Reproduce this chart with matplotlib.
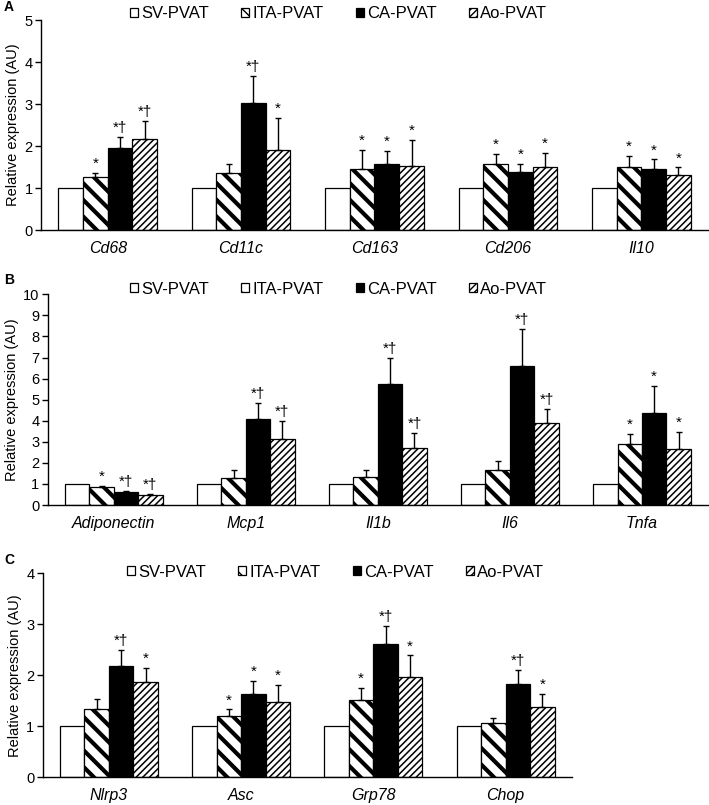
import matplotlib
matplotlib.use("Agg")
import matplotlib.pyplot as plt
from matplotlib.patches import Patch
import numpy as np

plt.rcParams['font.family'] = ['Liberation Sans', 'DejaVu Sans']

groups = ['SV-PVAT', 'ITA-PVAT', 'CA-PVAT', 'Ao-PVAT']

# Panel A
genes_a = ['Cd68', 'Cd11c', 'Cd163', 'Cd206', 'Il10']
sv_a = [1.0, 1.0, 1.0, 1.0, 1.0]
ita_a = [1.27, 1.36, 1.45, 1.56, 1.49]
ca_a = [1.95, 3.02, 1.56, 1.37, 1.45]
ao_a = [2.17, 1.90, 1.53, 1.49, 1.31]
ita_a_err = [1.36, 1.57, 1.90, 1.81, 1.76]
ca_a_err = [2.22, 3.67, 1.88, 1.57, 1.68]
ao_a_err = [2.60, 2.67, 2.14, 1.84, 1.49]
sig_a = [['', '*', '*†', '*†'], ['', '', '*†', '*'], ['', '*', '*', '*'],
         ['', '*', '*', '*'], ['', '*', '*', '*']]

# Panel B
genes_b = ['Adiponectin', 'Mcp1', 'Il1b', 'Il6', 'Tnfa']
sv_b = [1.0, 1.0, 1.0, 1.0, 1.0]
ita_b = [0.85, 1.30, 1.34, 1.66, 2.88]
ca_b = [0.63, 4.07, 5.73, 6.61, 4.35]
ao_b = [0.47, 3.15, 2.72, 3.91, 2.64]
ita_b_err = [0.90, 1.66, 1.66, 2.10, 3.36]
ca_b_err = [0.66, 4.83, 6.96, 8.34, 5.65]
ao_b_err = [0.53, 3.99, 3.43, 4.54, 3.48]
sig_b = [['', '*', '*†', '*†'], ['', '', '*†', '*†'], ['', '', '*†', '*†'],
         ['', '', '*†', '*†'], ['', '*', '*', '*']]

# Panel C
genes_c = ['Nlrp3', 'Asc', 'Grp78', 'Chop']
sv_c = [1.0, 1.0, 1.0, 1.0]
ita_c = [1.33, 1.20, 1.52, 1.06]
ca_c = [2.19, 1.63, 2.61, 1.83]
ao_c = [1.86, 1.48, 1.96, 1.37]
ita_c_err = [1.54, 1.33, 1.76, 1.17]
ca_c_err = [2.50, 1.89, 2.97, 2.10]
ao_c_err = [2.14, 1.81, 2.39, 1.63]
sig_c = [['', '', '*†', '*'], ['', '*', '*', '*'], ['', '*', '*†', '*'],
         ['', '', '*†', '*']]

W, H = 709, 805
fig = plt.figure(figsize=(W / 100, H / 100), dpi=100)

styles = [
    dict(facecolor='white', hatch=None, hlw=1.0),
    dict(facecolor='white', hatch='\\\\', hlw=3.0),
    dict(facecolor='black', hatch=None, hlw=1.0),
    dict(facecolor='white', hatch='/////', hlw=1.1),
]


def px_axes(left, right, top, bottom):
    return fig.add_axes([left / W, 1 - bottom / H, (right - left) / W, (bottom - top) / H])


def draw_panel(ax, genes, vals, errs, sigs, ymax, label, leg_xy):
    n = len(genes)
    x = np.arange(n)
    bw = 0.185
    for k in range(4):
        st = styles[k]
        pos = x + (k - 1.5) * bw
        v = np.array(vals[k])
        if errs[k] is not None:
            up = np.array(errs[k]) - v
            yerr = [np.zeros(n), up]
            ekw = dict(ecolor='black', elinewidth=1.0, capsize=2.5, capthick=1.0)
        else:
            yerr = None
            ekw = {}
        with plt.rc_context({'hatch.linewidth': st['hlw'], 'hatch.color': 'black'}):
            bars = ax.bar(pos, v, bw, facecolor=st['facecolor'], edgecolor='black',
                          linewidth=0.9, hatch=st['hatch'], yerr=yerr, error_kw=ekw,
                          zorder=2)
        for b in bars:
            try:
                b.set_hatch_linewidth(st['hlw'])
            except Exception:
                pass
        for i in range(n):
            s = sigs[i][k]
            if s:
                top = errs[k][i] if errs[k] is not None else v[i]
                ax.annotate(s, (pos[i], top), xytext=(0, 1.5), textcoords='offset points',
                            ha='center', va='bottom', fontsize=11)
    ax.set_xlim(-0.5, n - 0.5)
    ax.set_ylim(0, ymax)
    ax.set_yticks(np.arange(0, ymax + 1, 1))
    ax.set_xticks(x)
    ax.set_xticklabels(genes, fontstyle='italic', fontsize=11.5)
    ax.tick_params(axis='x', length=0, pad=8)
    ax.tick_params(axis='y', direction='out', length=4, width=1, labelsize=10.5, pad=2)
    for sp in ['top', 'right']:
        ax.spines[sp].set_visible(False)
    for sp in ['left', 'bottom']:
        ax.spines[sp].set_linewidth(1.0)
    ax.set_ylabel('Relative expression (AU)', fontsize=10.5, labelpad=3)
    handles = []
    for k in range(4):
        st = styles[k]
        with plt.rc_context({'hatch.linewidth': st['hlw']}):
            p = Patch(facecolor=st['facecolor'], edgecolor='black', linewidth=0.9,
                      hatch=st['hatch'], label=groups[k])
        handles.append(p)
    ax.legend(handles=handles, loc='center left', bbox_to_anchor=(leg_xy[0] / W, 1 - leg_xy[1] / H),
              bbox_transform=fig.transFigure, ncol=4, frameon=False, fontsize=12,
              handlelength=0.5, handleheight=0.5, handletextpad=0.2, columnspacing=1.9,
              borderpad=0, borderaxespad=0)
    fig.text(4 / W, 1 - label[1] / H, label[0], fontsize=10, fontweight='bold', va='center')


axA = px_axes(41, 708, 20, 230)
draw_panel(axA, genes_a, [sv_a, ita_a, ca_a, ao_a], [None, ita_a_err, ca_a_err, ao_a_err],
           sig_a, 5, ('A', 7), (130, 14))

axB = px_axes(47.7, 708, 294.3, 505)
draw_panel(axB, genes_b, [sv_b, ita_b, ca_b, ao_b], [None, ita_b_err, ca_b_err, ao_b_err],
           sig_b, 10, ('B', 280), (130, 289))

axC = px_axes(42.7, 571.7, 573.3, 777.3)
draw_panel(axC, genes_c, [sv_c, ita_c, ca_c, ao_c], [None, ita_c_err, ca_c_err, ao_c_err],
           sig_c, 4, ('C', 560), (127, 572))

fig.savefig('out.png', dpi=100)
